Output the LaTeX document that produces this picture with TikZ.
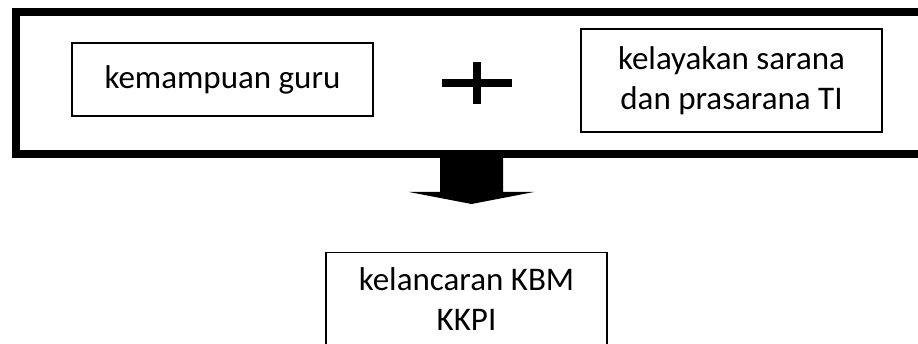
\documentclass[tikz,border=0pt]{standalone}
\usepackage{fontspec}
\setmainfont{Carlito}
\begin{document}
\begin{tikzpicture}[x=1pt,y=-1pt,
  textbox/.style={draw, line width=1.5pt, inner sep=0pt, align=center,
    font=\fontsize{33}{40}\selectfont},
  frame/.style={draw, line width=8pt, inner sep=0pt},
  bigarrow/.style={fill=black},
  plusbar/.style={line width=8pt}]
  \useasboundingbox (0,0) rectangle (918,344);
  \clip (0,0) rectangle (918,344);
  % outer frame, running past the right edge
  \node[frame, minimum width=925pt, minimum height=142pt] (frame) at (478,83) {};
  % the two factors
  \node[textbox, minimum width=301pt, minimum height=73pt] (guru) at (222.5,79.5) {kemampuan guru};
  \node[textbox, minimum width=301pt, minimum height=103pt] (sarana) at (731.5,80.5)
    {kelayakan sarana\\dan prasarana TI};
  % plus sign between them
  \coordinate (plus) at (477,83);
  \draw[plusbar] ([xshift=-35pt]plus) -- ([xshift=35pt]plus);
  \draw[plusbar] ([yshift=-21pt]plus) -- ([yshift=21pt]plus);
  % result box, running past the bottom edge
  \node[draw, line width=1.5pt, minimum width=281pt, minimum height=130pt, anchor=north]
    (hasil) at (466.5,252) {};
  \node[font=\fontsize{33}{40}\selectfont, align=center, inner sep=0pt]
    (hasiltext) at ([yshift=-47pt]hasil.north) {kelancaran KBM\\KKPI};
  % block arrow from the frame down towards the result
  \coordinate (top) at (471.5,154);
  \fill[bigarrow] ([xshift=-31.5pt]top) -- ([xshift=31.5pt]top)
    -- ([xshift=31.5pt,yshift=-38pt]top) -- ([xshift=62.5pt,yshift=-38pt]top)
    -- ([yshift=-50pt]top) -- ([xshift=-62.5pt,yshift=-38pt]top)
    -- ([xshift=-31.5pt,yshift=-38pt]top) -- cycle;
\end{tikzpicture}
\end{document}
